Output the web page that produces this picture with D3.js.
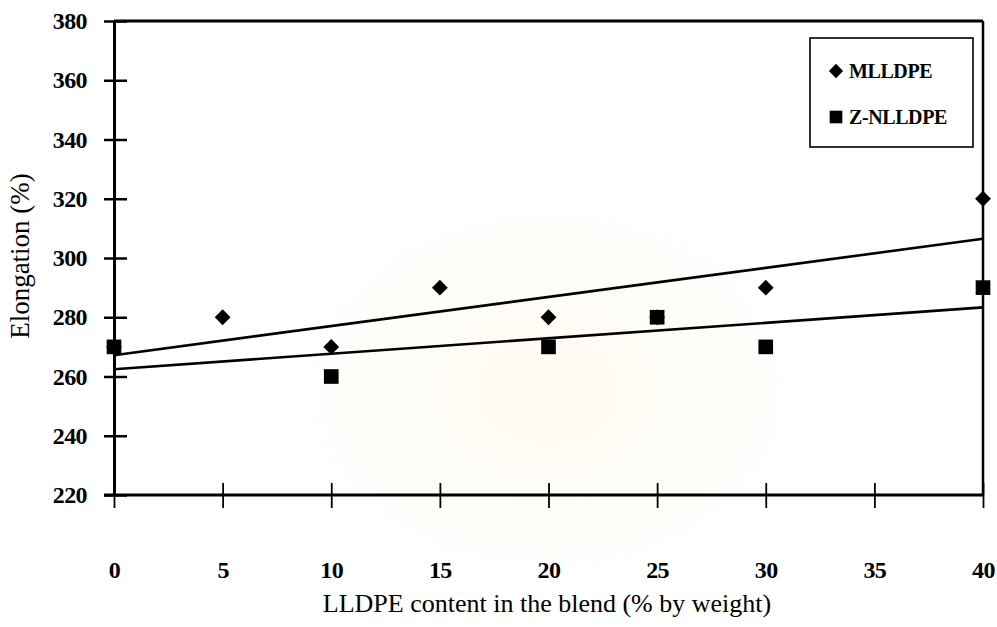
<!DOCTYPE html>
<html><head><meta charset="utf-8">
<script src="https://cdn.jsdelivr.net/npm/d3@7"></script>
<style>
html,body{margin:0;padding:0;background:#fff;}
svg{display:block;}
</style>
</head><body>
<svg id="chart" width="997" height="627"></svg>
<script>
// ---- data ----
const xTicks = [0, 5, 10, 15, 20, 25, 30, 35, 40];
const yTicks = [220, 240, 260, 280, 300, 320, 340, 360, 380];
const mlldpeX = [0, 5, 10, 15, 20, 25, 30, 40];
const mlldpeY = [270, 280, 270, 290, 280, 280, 290, 320];
const znlldpeX = [0, 10, 20, 25, 30, 40];
const znlldpeY = [270, 260, 270, 280, 270, 290];
const seriesNames = ["MLLDPE", "Z-NLLDPE"];
const xTitle = "LLDPE content in the blend (% by weight)";
const yTitle = "Elongation (%)";

const svg = d3.select("#chart");
const L = 114, R = 983, T = 21, B = 495;
const x = d3.scaleLinear().domain([0, 40]).range([L, R]);
const y = d3.scaleLinear().domain([220, 380]).range([B, T]);
const font = "'Liberation Serif','Times New Roman',serif";

// faint watermark glow
const defs = svg.append("defs");
const rg = defs.append("radialGradient").attr("id", "wm");
rg.append("stop").attr("offset", "0%").attr("stop-color", "#fbf3d6").attr("stop-opacity", 0.35);
rg.append("stop").attr("offset", "60%").attr("stop-color", "#fdf7e4").attr("stop-opacity", 0.25);
rg.append("stop").attr("offset", "100%").attr("stop-color", "#ffffff").attr("stop-opacity", 0);
svg.append("ellipse").attr("cx", 548).attr("cy", 390).attr("rx", 290).attr("ry", 220).attr("fill", "url(#wm)");

// frame
svg.append("line").attr("x1", L).attr("x2", R).attr("y1", T).attr("y2", T).attr("stroke", "#000").attr("stroke-width", 3);
svg.append("line").attr("x1", R).attr("x2", R).attr("y1", T).attr("y2", B).attr("stroke", "#000").attr("stroke-width", 2.5);

// y axis
const yAxis = d3.axisLeft(y).tickValues(yTicks).tickSize(0).tickPadding(0);
const gy = svg.append("g").attr("transform", `translate(${L},0)`).call(yAxis);
gy.select(".domain").attr("stroke", "#000").attr("stroke-width", 3);
gy.selectAll(".tick line").attr("x1", -10).attr("x2", 13).attr("stroke", "#000").attr("stroke-width", 2.5);
gy.selectAll(".tick text").attr("x", -27).attr("font-family", font).attr("font-size", 24)
  .attr("font-weight", "bold").attr("fill", "#000").attr("letter-spacing", -0.6);

// x axis
const xAxis = d3.axisBottom(x).tickValues(xTicks).tickSize(0).tickPadding(0);
const gx = svg.append("g").attr("transform", `translate(0,${B})`).call(xAxis);
gx.select(".domain").attr("stroke", "#000").attr("stroke-width", 3).attr("d", `M${L - 10},0H${R}`);
gx.selectAll(".tick line").attr("y1", -12).attr("y2", 13).attr("stroke", "#000").attr("stroke-width", 1.8);
gx.selectAll(".tick text").attr("y", 75).attr("dy", "0.35em").attr("font-family", font).attr("font-size", 24)
  .attr("font-weight", "bold").attr("fill", "#000").attr("letter-spacing", -0.6);

// linear regression trend lines
function fit(xs, ys) {
  const n = xs.length, mx = d3.mean(xs), my = d3.mean(ys);
  let sxy = 0, sxx = 0;
  for (let i = 0; i < n; i++) { sxy += (xs[i] - mx) * (ys[i] - my); sxx += (xs[i] - mx) ** 2; }
  const b = sxy / sxx, a = my - b * mx;
  return v => a + b * v;
}
[[mlldpeX, mlldpeY], [znlldpeX, znlldpeY]].forEach(([xs, ys]) => {
  const f = fit(xs, ys);
  svg.append("line").attr("x1", x(0)).attr("y1", y(f(0))).attr("x2", x(40)).attr("y2", y(f(40)))
    .attr("stroke", "#000").attr("stroke-width", 2.6);
});

// markers
const diamond = d3.symbol().type(d3.symbolDiamond2).size(160);
const square = d3.symbol().type(d3.symbolSquare).size(215);
svg.append("g").selectAll("path").data(mlldpeX.map((v, i) => [v, mlldpeY[i]])).join("path")
  .attr("d", diamond).attr("transform", d => `translate(${x(d[0])},${y(d[1])})`).attr("fill", "#000");
svg.append("g").selectAll("path").data(znlldpeX.map((v, i) => [v, znlldpeY[i]])).join("path")
  .attr("d", square).attr("transform", d => `translate(${x(d[0])},${y(d[1])})`).attr("fill", "#000");

// titles
svg.append("text").attr("x", 547).attr("y", 612).attr("text-anchor", "middle")
  .attr("font-family", font).attr("font-size", 26).attr("fill", "#000").text(xTitle);
svg.append("text").attr("transform", "translate(29,256) rotate(-90)").attr("text-anchor", "middle")
  .attr("font-family", font).attr("font-size", 27).attr("fill", "#000").text(yTitle);

// legend
const lg = svg.append("g");
lg.append("rect").attr("x", 810).attr("y", 38).attr("width", 163).attr("height", 109)
  .attr("fill", "#fff").attr("stroke", "#000").attr("stroke-width", 1.6);
lg.append("path").attr("d", d3.symbol().type(d3.symbolDiamond2).size(130)).attr("transform", "translate(836,71)");
lg.append("path").attr("d", d3.symbol().type(d3.symbolSquare).size(160)).attr("transform", "translate(836,117)");
lg.selectAll("text.lt").data(seriesNames).join("text").attr("class", "lt")
  .attr("x", 849).attr("y", (d, i) => 71 + i * 46).attr("dy", "0.35em")
  .attr("font-family", font).attr("font-size", 20).attr("font-weight", "bold").attr("letter-spacing", -0.4)
  .attr("fill", "#000").text(d => d);
</script>
</body></html>
